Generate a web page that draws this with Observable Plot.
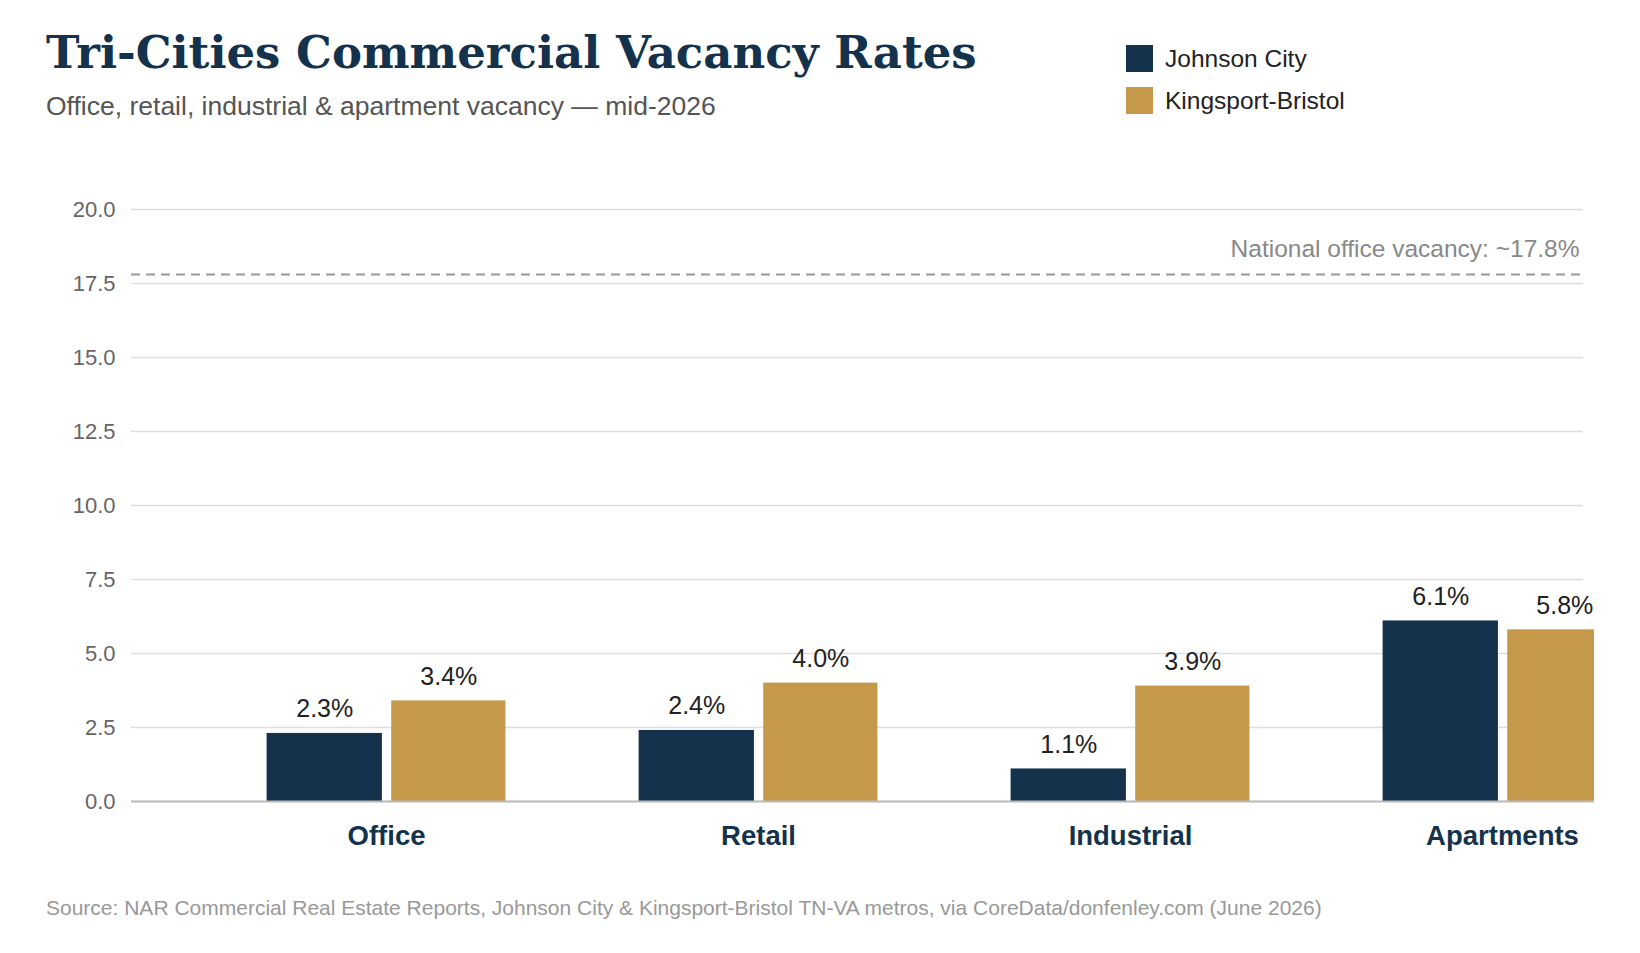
<!DOCTYPE html>
<html><head><meta charset="utf-8">
<script src="https://cdn.jsdelivr.net/npm/d3@7"></script>
<script src="https://cdn.jsdelivr.net/npm/@observablehq/plot@0.6"></script>
<style>
body{margin:0;background:#fff;font-family:"Liberation Sans",Arial,sans-serif;}
#wrap{position:relative;width:1640px;height:953px;overflow:hidden}
#chart{position:absolute;left:0;top:0}
.t{position:absolute;white-space:nowrap}
</style></head><body>
<div id="wrap">
<div id="chart"></div>
<div class="t" style="left:46px;top:26px;font-family:'DejaVu Serif',serif;font-weight:bold;font-size:45px;color:#15324d">Tri-Cities Commercial Vacancy Rates</div>
<div class="t" style="left:46px;top:91px;font-size:26.5px;color:#555">Office, retail, industrial &amp; apartment vacancy — mid-2026</div>
<div class="t" style="left:1126px;top:45px;font-size:24.5px;color:#222"><span style="display:inline-block;width:27px;height:27px;background:#15324d;vertical-align:-5px;margin-right:12px"></span>Johnson City</div>
<div class="t" style="left:1126px;top:87px;font-size:24.5px;color:#222"><span style="display:inline-block;width:27px;height:27px;background:#c49a4a;vertical-align:-5px;margin-right:12px"></span>Kingsport-Bristol</div>
<div class="t" style="left:46px;top:896px;font-size:21px;color:#999">Source: NAR Commercial Real Estate Reports, Johnson City &amp; Kingsport-Bristol TN-VA metros, via CoreData/donfenley.com (June 2026)</div>
</div>
<script>
const categories = ["Office","Retail","Industrial","Apartments"];
const series = ["Johnson City","Kingsport-Bristol"];
const johnsonCity = [2.3,2.4,1.1,6.1];
const kingsportBristol = [3.4,4.0,3.9,5.8];
const yTicks = [0,2.5,5,7.5,10,12.5,15,17.5,20];
const nationalOffice = 17.8;
const colors = ["#15324d","#c49a4a"];
// bar slot within each category group (in category units)
const slots = [[-0.321,-0.011],[0.014,0.321]];
const data = categories.flatMap((c,i)=>[johnsonCity[i],kingsportBristol[i]].map((v,j)=>({
  i, s:series[j], v, x1:i+slots[j][0], x2:i+slots[j][1], xc:i+(slots[j][0]+slots[j][1])/2})));
const svg = Plot.plot({
  width:1594,height:953,marginTop:209,marginBottom:152,marginLeft:131,marginRight:11,
  style:{fontFamily:"Liberation Sans, Arial, sans-serif",overflow:"hidden"},
  x:{domain:[-0.6855,3.2177],axis:null},
  y:{domain:[0,20],label:null},
  color:{domain:series,range:colors},
  marks:[
    Plot.gridY(yTicks,{stroke:"#ddd",strokeOpacity:1,strokeWidth:1.5}),
    Plot.axisY(yTicks,{tickSize:0,tickPadding:16,fontSize:22,fill:"#666",tickFormat:d=>d.toFixed(1),label:null}),
    Plot.axisX(categories.map((c,i)=>i),{anchor:"bottom",tickSize:0,tickPadding:24,fontSize:27.5,fontWeight:"bold",fill:"#15324d",tickFormat:i=>categories[i],label:null}),
    Plot.rectY(data,{x1:"x1",x2:"x2",y:"v",fill:"s",clip:false}),
    Plot.text(data,{x:"xc",y:"v",text:d=>d.v.toFixed(1)+"%",dy:-24,fontSize:25,fill:"#222"}),
    Plot.ruleY([0],{stroke:"#bbb",strokeWidth:2,x1:-0.6855,x2:3.5}),
    Plot.ruleY([nationalOffice],{stroke:"#999",strokeWidth:2,strokeDasharray:"9,6"}),
    Plot.text([nationalOffice],{y:d=>d,frameAnchor:"right",text:d=>"National office vacancy: ~"+d+"%",textAnchor:"end",dy:-25,dx:-4,fontSize:24.5,fill:"#888"})
  ]
});
document.getElementById("chart").appendChild(svg);
</script>
</body></html>
